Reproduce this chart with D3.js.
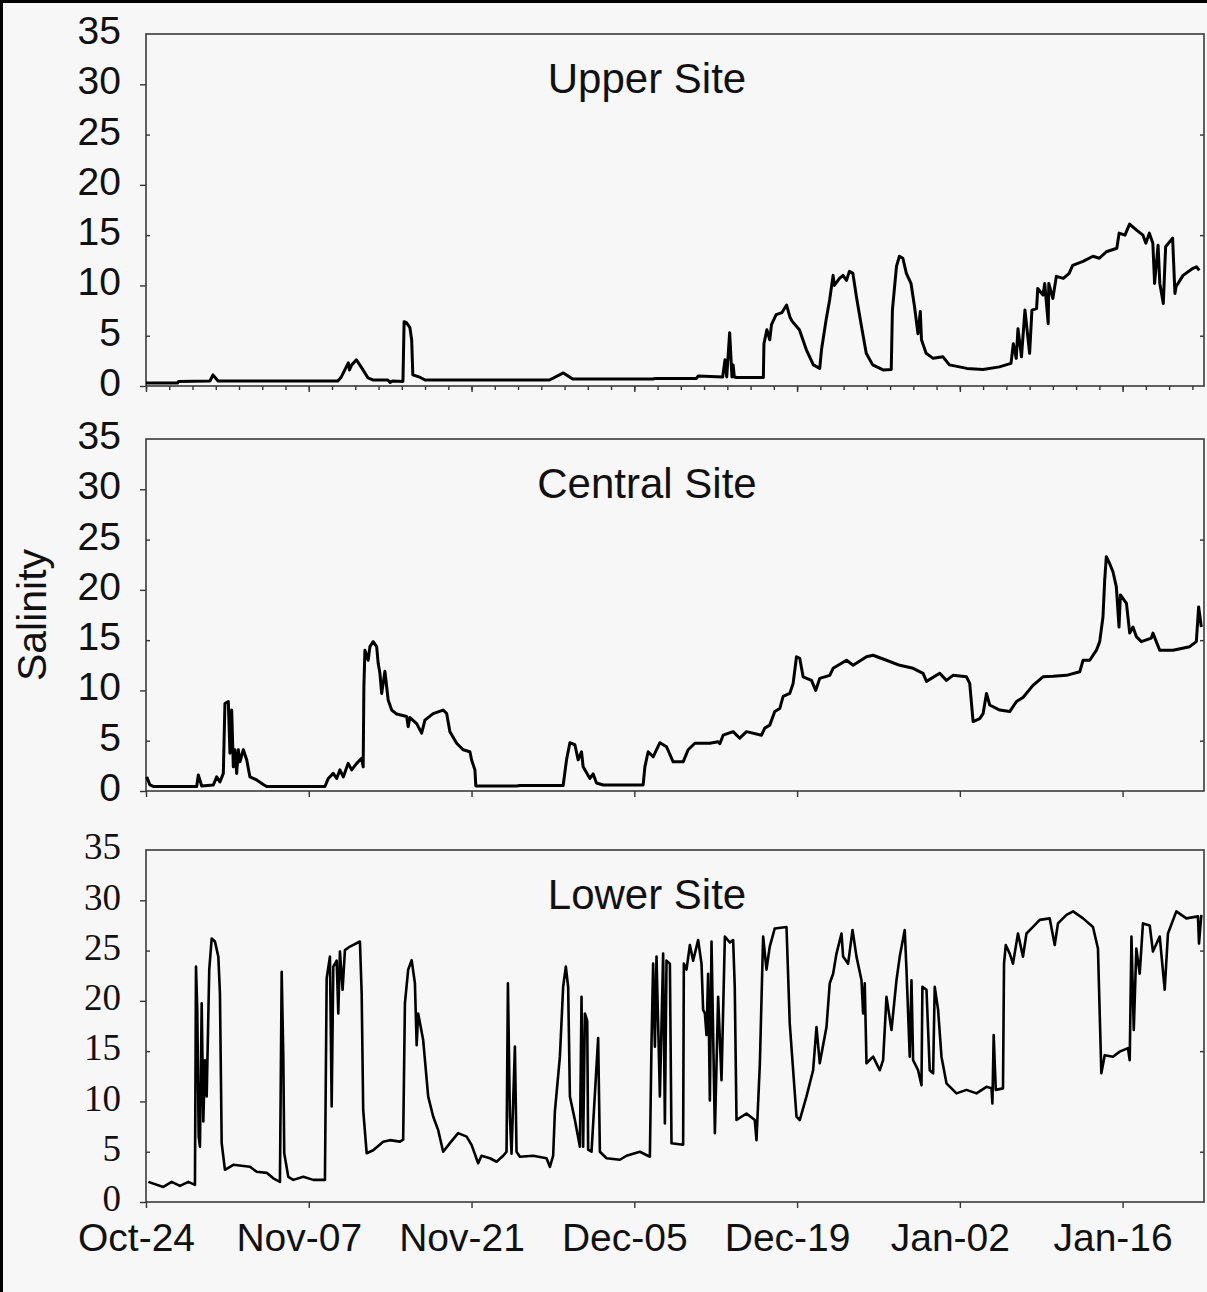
<!DOCTYPE html>
<html>
<head>
<meta charset="utf-8">
<style>
body { margin: 0; background: #000; }
.axis .domain { display: none; }
.axis line { stroke: #333; stroke-width: 1.4; }
</style>
</head>
<body>
<svg width="1207" height="1292"></svg>
<script src="https://d3js.org/d3.v7.min.js"></script>
<script>

// days after Oct-24, salinity
var upperDays = [0, 2.7, 2.8, 5.5, 5.76, 6.2, 16.5, 16.8, 17.4, 17.5, 17.7, 18.1, 18.5, 19.1, 19.5, 20.8, 21.0, 21.2, 22.1, 22.2, 22.4, 22.7, 22.85, 22.95, 23.6, 24.0,
  34.7, 35.9, 36.7, 43.6, 43.8, 47.35, 47.5, 49.6, 49.8, 49.95, 50.2, 50.4, 50.5, 50.6, 50.8, 53.1, 53.15, 53.4, 53.65, 53.8, 54.2, 54.7, 55.1, 55.4, 55.6,
  56.2, 56.8, 57.4, 57.95, 58.1, 58.5, 58.8, 59.1, 59.2, 59.65, 59.95, 60.25, 60.5, 60.8, 61.1, 61.5, 61.95, 62.5, 63.4, 64.1, 64.2, 64.55, 64.8, 65.1,
  65.4, 65.8, 66.1, 66.4, 66.6, 66.7, 67.1, 67.7, 68.55, 69.1, 70.6, 72.0, 73.4, 74.4, 74.6, 74.85, 75.0, 75.3, 75.6, 76.0, 76.2, 76.6, 76.7, 77.15, 77.3,
  77.6, 77.65, 78.0, 78.3, 78.9, 79.4, 79.7, 80.6, 81.45, 82.0, 82.6, 83.5, 83.7, 84.2, 84.6, 85.2, 85.75, 86.0, 86.3, 86.6, 86.75, 87.05, 87.2, 87.5,
  87.7, 88.3, 88.5, 88.6, 89.2, 90.05, 90.35, 90.6];
var upperSal = [0.3, 0.3, 0.45, 0.5, 1.1, 0.5, 0.5, 0.9, 2.3, 1.6, 2.1, 2.6, 1.9, 0.8, 0.6, 0.6, 0.35, 0.5, 0.45, 6.4, 6.3, 5.8, 4.6, 1.1, 0.85, 0.6,
  0.6, 1.3, 0.7, 0.7, 0.75, 0.75, 1.0, 0.9, 2.6, 0.9, 5.3, 0.9, 2.1, 0.9, 0.85, 0.85, 4.2, 5.6, 4.6, 6.1, 7.1, 7.3, 8.05, 6.8, 6.4,
  5.6, 3.6, 2.1, 1.75, 3.6, 6.6, 8.55, 11.0, 10.0, 10.7, 11.0, 10.5, 11.4, 11.2, 8.9, 6.2, 3.25, 2.1, 1.6, 1.65, 7.55, 11.9, 12.9, 12.7,
  11.2, 10.2, 7.9, 5.2, 7.4, 4.6, 3.25, 2.75, 2.9, 2.1, 1.75, 1.65, 1.9, 2.25, 4.2, 2.75, 5.7, 2.9, 7.55, 3.25, 7.55, 7.7, 9.7, 9.05, 10.2,
  6.2, 10.2, 8.7, 10.9, 10.7, 11.2, 12.0, 12.4, 12.9, 12.7, 13.35, 13.7, 15.2, 15.0, 16.1, 15.5, 15.0, 14.2, 15.2, 14.2, 10.2, 14.0, 10.2, 8.2,
  13.85, 14.7, 9.2, 9.9, 11.0, 11.7, 11.85, 11.5];

var centralDays = [0.06, 0.34, 0.63, 4.36, 4.5, 4.79, 5.79, 6.08, 6.36, 6.65, 6.79, 7.08, 7.22, 7.37, 7.51, 7.65, 7.8, 7.94, 8.08, 8.37, 8.66, 8.94, 9.52,
  10.09, 10.38, 15.39, 15.68, 16.1, 16.4, 16.68, 16.97, 17.39, 17.69, 18.12, 18.55, 18.68, 18.74, 18.83, 19.11, 19.26, 19.54, 19.69, 19.84, 19.97,
  20.12, 20.27, 20.4, 20.55, 20.83, 21.13, 21.56, 22.42, 22.55, 22.7, 23.28, 23.71, 23.99, 24.7, 25.56, 25.86, 26.14, 26.72, 27.28, 27.86, 28.0,
  28.29, 28.37, 31.87, 32.16, 35.88, 36.17, 36.46, 36.89, 37.17, 37.46, 37.6, 38.18, 38.46, 38.75, 39.32, 42.76, 42.91, 43.19, 43.62, 44.2, 44.77,
  45.34, 46.2, 46.63, 47.21, 48.5, 49.21, 49.36, 49.64, 50.5, 51.07, 51.65, 52.94, 53.22, 53.65, 54.08, 54.51, 54.8, 55.37, 55.66, 55.95, 56.23,
  56.52, 57.24, 57.6, 57.95, 58.81, 59.1, 60.25, 60.82, 61.97, 62.54, 63.69, 64.83, 65.98, 66.84, 67.13, 68.27, 68.85, 69.41, 70.57, 70.85, 71.14,
  71.71, 72.0, 72.29, 72.57, 73.43, 74.29, 74.87, 75.43, 76.29, 77.15, 78.01, 79.17, 80.31, 80.6, 81.17, 81.75, 82.03, 82.31, 82.46, 82.6, 82.89,
  83.17, 83.46, 83.69, 83.81, 84.33, 84.61, 84.89, 85.18, 85.61, 86.47, 86.61, 87.19, 88.33, 89.77, 90.34, 90.54, 90.77];
var centralSal = [1.4, 0.6, 0.45, 0.45, 1.6, 0.5, 0.6, 1.4, 0.9, 1.75, 8.7, 8.9, 3.75, 8.05, 2.4, 4.1, 1.75, 4.1, 2.9, 4.1, 3.1, 1.4, 1.1,
  0.65, 0.45, 0.45, 1.25, 1.75, 1.25, 2.1, 1.4, 2.75, 2.1, 2.75, 3.25, 2.4, 10.4, 14.0, 13.0, 14.35, 14.85, 14.6, 14.35, 12.7,
  11.7, 9.7, 10.7, 11.9, 9.05, 8.05, 7.65, 7.4, 6.4, 7.3, 6.7, 5.75, 7.05, 7.7, 8.05, 7.7, 5.9, 4.75, 4.1, 3.9, 3.1,
  2.1, 0.5, 0.5, 0.55, 0.55, 3.1, 4.8, 4.6, 3.1, 3.9, 2.4, 1.25, 1.7, 0.8, 0.6, 0.6, 2.4, 3.9, 3.4, 4.8, 4.4,
  2.9, 2.9, 4.1, 4.75, 4.75, 4.9, 4.7, 5.55, 5.9, 5.25, 5.9, 5.55, 6.25, 6.55, 7.9, 8.2, 9.4, 9.7, 10.7, 13.35, 13.2,
  11.35, 11.0, 10.0, 11.2, 11.5, 12.2, 13.0, 12.5, 13.35, 13.5, 13.0, 12.5, 12.2, 11.7, 10.9, 11.7, 11.0, 11.5, 11.35, 10.7, 6.9,
  7.2, 7.7, 9.7, 8.55, 8.05, 7.9, 8.9, 9.3, 10.5, 11.35, 11.4, 11.5, 11.85, 13.0, 13.0, 14.0, 14.85, 17.3, 21.0, 23.3, 22.6,
  21.8, 20.3, 16.3, 19.5, 18.65, 15.7, 16.3, 15.35, 14.85, 15.2, 15.7, 14.0, 14.0, 14.35, 14.85, 18.3, 16.3];

var lowerDays = [0.2, 1.49, 2.21, 2.92, 3.64, 4.21, 4.3, 4.41, 4.53, 4.64, 4.79, 4.93, 5.07, 5.22, 5.44, 5.65, 5.93, 6.22, 6.36, 6.51, 6.79, 7.51,
  8.94, 9.52, 10.38, 10.95, 11.52, 11.67, 11.81, 11.89, 12.24, 12.67, 13.53, 14.39, 15.39, 15.54, 15.82, 15.97, 16.11, 16.4, 16.54, 16.68,
  16.91, 17.11, 17.54, 18.4, 18.55, 18.68, 18.98, 19.54, 20.4, 20.98, 21.84, 22.12, 22.27, 22.55, 22.85, 23.13, 23.28, 23.41, 23.84, 24.27,
  24.7, 25.13, 25.56, 26.14, 26.85, 27.58, 28.01, 28.57, 28.86, 29.58, 30.15, 30.72, 31.01, 31.13, 31.3, 31.44, 31.73, 31.87, 32.16, 33.3,
  34.45, 34.74, 35.02, 35.17, 35.6, 35.88, 36.11, 36.31, 36.46, 36.89, 37.32, 37.46, 37.6, 37.75, 37.95, 38.03, 38.32, 38.89, 39.04, 39.61,
  40.76, 41.33, 42.48, 43.34, 43.48, 43.62, 43.77, 43.91, 44.2, 44.48, 44.63, 44.77, 45.06, 45.2, 46.2, 46.26, 46.49, 46.78, 47.06, 47.49,
  47.78, 47.92, 48.07, 48.21, 48.35, 48.5, 48.64, 48.93, 49.21, 49.5, 49.79, 50.22, 50.5, 50.64, 50.79, 51.65, 52.36, 52.51, 52.8, 53.08,
  53.37, 53.65, 54.08, 55.09, 55.37, 55.95, 56.23, 56.81, 57.38, 57.67, 57.95, 58.53, 58.81, 59.1, 59.39, 59.82, 59.96, 60.39, 60.77, 61.11,
  61.54, 61.68, 61.82, 61.97, 62.54, 63.11, 63.4, 63.69, 64.12, 64.55, 64.83, 65.26, 65.41, 65.69, 65.84, 65.98, 66.41, 66.7, 66.78, 67.13,
  67.41, 67.7, 67.84, 68.13, 68.42, 68.85, 69.71, 70.57, 71.43, 72.29, 72.72, 72.8, 72.91, 73.09, 73.71, 73.8, 73.95, 74.29, 74.57, 75.0,
  75.43, 75.73, 76.29, 76.87, 77.73, 78.16, 78.44, 79.17, 79.74, 80.6, 81.45, 81.88, 82.03, 82.17, 82.46, 83.17, 83.75, 84.46, 84.61, 84.76,
  84.96, 85.18, 85.47, 85.75, 86.33, 86.61, 87.19, 87.62, 87.9, 88.62, 89.48, 90.48, 90.57, 90.77];
var lowerSal = [2.0, 1.5, 2.0, 1.6, 2.0, 1.7, 23.4, 19.1, 6.5, 5.5, 19.75, 8.0, 14.1, 10.5, 23.1, 26.2, 25.9, 24.4, 20.75, 5.85, 3.2, 3.7,
  3.5, 3.0, 2.9, 2.35, 2.0, 22.9, 14.45, 4.85, 2.5, 2.2, 2.5, 2.2, 2.2, 22.25, 24.4, 9.5, 23.4, 24.0, 18.75, 24.9,
  21.1, 25.05, 25.4, 25.9, 20.75, 9.15, 4.85, 5.15, 6.0, 6.15, 6.0, 6.2, 19.75, 23.1, 24.05, 21.75, 15.6, 18.75, 16.1, 10.5,
  8.5, 7.15, 5.0, 5.85, 6.85, 6.5, 5.65, 3.85, 4.6, 4.35, 4.0, 4.6, 5.0, 21.75, 8.5, 4.8, 15.45, 5.0, 4.5, 4.6,
  4.35, 3.5, 4.6, 9.0, 14.45, 21.4, 23.4, 21.4, 10.5, 8.15, 5.5, 20.4, 5.5, 18.75, 18.0, 5.2, 5.0, 16.3, 5.0, 4.35,
  4.2, 4.6, 5.0, 4.5, 15.8, 23.7, 15.45, 24.4, 10.5, 24.7, 7.8, 24.0, 23.7, 5.85, 5.7, 23.7, 23.1, 25.55, 24.0, 26.05,
  23.7, 19.1, 18.75, 16.6, 22.7, 10.1, 25.9, 6.85, 20.4, 12.1, 26.4, 25.8, 26.05, 21.4, 8.15, 8.8, 8.15, 6.15, 13.8, 26.4,
  23.1, 25.4, 27.2, 27.35, 17.75, 8.5, 8.15, 10.5, 13.1, 17.4, 13.8, 17.4, 21.75, 22.7, 24.7, 26.7, 24.4, 23.7, 27.05, 24.4,
  22.05, 18.75, 21.75, 13.8, 14.45, 13.1, 14.1, 20.4, 17.1, 22.05, 24.4, 27.05, 23.1, 14.45, 22.05, 14.1, 13.1, 11.6, 21.4, 21.1,
  13.1, 12.8, 21.4, 19.1, 14.45, 11.8, 10.8, 11.15, 10.8, 11.45, 11.3, 9.8, 16.6, 11.15, 11.3, 23.7, 25.55, 24.7, 23.7, 26.7,
  24.4, 26.7, 27.35, 28.05, 28.2, 25.55, 27.7, 28.55, 28.9, 28.2, 27.35, 25.2, 18.75, 12.8, 14.6, 14.45, 14.95, 15.3, 14.1, 26.4,
  17.1, 25.2, 22.7, 27.7, 27.5, 24.9, 26.4, 21.1, 26.7, 28.9, 28.2, 28.4, 25.7, 28.55];

var yTicks = [0, 5, 10, 15, 20, 25, 30, 35];
var xTickDays = [0, 14, 28, 42, 56, 70, 84];
var siteNames = ["Upper Site", "Central Site", "Lower Site"];

var svg = d3.select("svg"),
    left = 146, right = 1204, panelH = 352,
    tops = [34, 439, 850];

svg.append("rect")
    .attr("x", 3).attr("y", 3)
    .attr("width", 1204).attr("height", 1289)
    .attr("fill", "#f7f7f7");

var start = new Date(2004, 9, 24);
function toDate(d) { return new Date(start.getTime() + d * 864e5); }

var x = d3.scaleTime()
    .domain([start, toDate(91)])
    .range([left, right]);

var panels = [
  {name: siteNames[0], days: upperDays, sal: upperSal, font: "Liberation Sans, Arial, sans-serif", size: 39, minor: true},
  {name: siteNames[1], days: centralDays, sal: centralSal, font: "Liberation Sans, Arial, sans-serif", size: 39, minor: false},
  {name: siteNames[2], days: lowerDays, sal: lowerSal, font: "Liberation Serif, Times New Roman, serif", size: 37, minor: false}
];

panels.forEach(function(p, k) {
  var top = tops[k];
  var y = d3.scaleLinear().domain([0, 35]).range([top + panelH, top]);
  var g = svg.append("g");

  // tick labels every 5
  var lab = g.append("g")
      .attr("class", "axis")
      .attr("transform", "translate(" + left + ",0)")
      .call(d3.axisLeft(y).tickValues(yTicks).tickSize(0).tickPadding(25));
  lab.selectAll("text")
      .attr("y", -3)
      .attr("fill", "#111")
      .style("font-family", p.font)
      .style("font-size", p.size + "px");

  // outward major ticks, inward minor ticks
  g.append("g")
      .attr("class", "axis")
      .attr("transform", "translate(" + left + ",0)")
      .call(d3.axisLeft(y).tickValues([0, 10, 20, 30]).tickSize(6).tickFormat(""));
  g.append("g")
      .attr("class", "axis")
      .attr("transform", "translate(" + left + ",0)")
      .call(d3.axisRight(y).tickValues([5, 15, 25]).tickSize(4).tickFormat(""));
  g.append("g")
      .attr("class", "axis")
      .attr("transform", "translate(" + right + ",0)")
      .call(d3.axisLeft(y).tickValues([5, 15, 25]).tickSize(4).tickFormat(""));

  if (p.minor) {
    g.append("g")
        .attr("class", "axis")
        .attr("transform", "translate(0," + (top + panelH) + ")")
        .call(d3.axisBottom(x).tickValues(d3.range(0, 91, 2).map(toDate)).tickSize(4).tickFormat(""));
  }
  var xa = g.append("g")
      .attr("class", "axis")
      .attr("transform", "translate(0," + (top + panelH) + ")")
      .call(d3.axisBottom(x).tickValues(xTickDays.map(toDate)).tickSize(6)
        .tickFormat(k == 2 ? d3.timeFormat("%b-%d") : ""));
  if (k == 2) {
    xa.selectAll("text")
        .attr("x", -10)
        .attr("y", 49)
        .attr("dy", 0)
        .attr("fill", "#111")
        .style("font-family", "Liberation Sans, Arial, sans-serif")
        .style("font-size", "39px");
  }

  g.append("rect")
      .attr("x", left).attr("y", top)
      .attr("width", right - left).attr("height", panelH)
      .attr("fill", "none")
      .attr("stroke", "#3a3a3a")
      .attr("stroke-width", 1.6);

  var line = d3.line()
      .x(function(d, i) { return x(toDate(p.days[i])); })
      .y(function(d) { return y(d); });

  g.append("path")
      .datum(p.sal)
      .attr("fill", "none")
      .attr("stroke", "#000")
      .attr("stroke-width", k == 2 ? 2.6 : 3)
      .attr("stroke-linejoin", "round")
      .attr("d", line);

  g.append("text")
      .attr("x", 647)
      .attr("y", top + 59)
      .attr("text-anchor", "middle")
      .style("font-family", "Liberation Sans, Arial, sans-serif")
      .style("font-size", "42px")
      .attr("fill", "#111")
      .text(p.name);
});

svg.append("text")
    .attr("transform", "translate(46,615) rotate(-90)")
    .attr("text-anchor", "middle")
    .style("font-family", "Liberation Sans, Arial, sans-serif")
    .style("font-size", "41px")
    .attr("fill", "#111")
    .text("Salinity");

</script>
</body>
</html>
